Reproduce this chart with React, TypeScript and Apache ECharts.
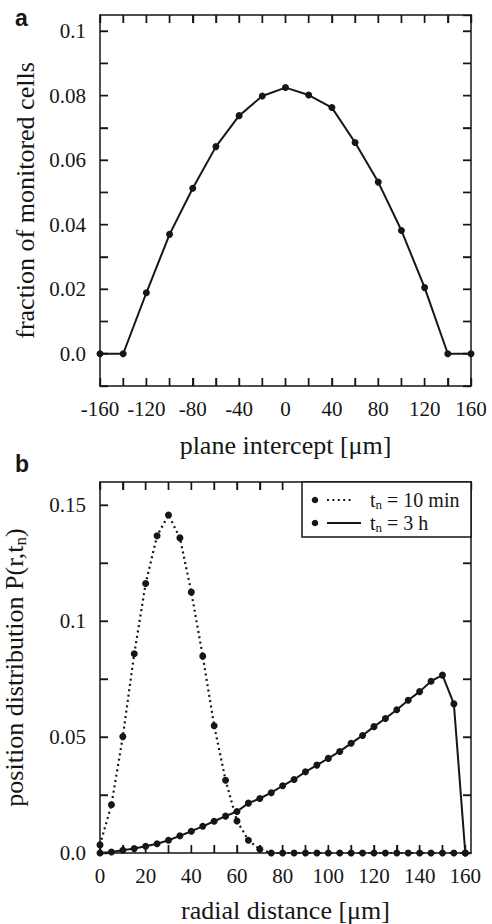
import React, { useEffect, useRef } from "react";
import * as echarts from "echarts";

// Panel a: plane intercept [µm] vs fraction of monitored cells
const planeX = [-160, -140, -120, -100, -80, -60, -40, -20, 0, 20, 40, 60, 80, 100, 120, 140, 160];
const fraction = [0, 0, 0.0189, 0.037, 0.0513, 0.0642, 0.0738, 0.0799, 0.0825, 0.0802, 0.0763, 0.0655, 0.0532, 0.0382, 0.0205, 0, 0];

// Panel b: radial distance [µm] vs position distribution
const radial = [0, 5, 10, 15, 20, 25, 30, 35, 40, 45, 50, 55, 60, 65, 70, 75, 80, 85, 90, 95, 100, 105, 110, 115, 120, 125, 130, 135, 140, 145, 150, 155, 160];
const tenMin = [0.0035, 0.0208, 0.0502, 0.0859, 0.1162, 0.1368, 0.1458, 0.1359, 0.1125, 0.0849, 0.0549, 0.0314, 0.0138, 0.0055, 0.0016, 0, 0, 0, 0, 0, 0, 0, 0, 0, 0, 0, 0, 0, 0, 0, 0, 0, 0];
const threeH = [0, 0.0004, 0.0012, 0.0019, 0.0029, 0.004, 0.0055, 0.0074, 0.0094, 0.0115, 0.0137, 0.0159, 0.0179, 0.0215, 0.0235, 0.026, 0.029, 0.0317, 0.035, 0.0379, 0.0408, 0.0438, 0.0473, 0.0507, 0.0545, 0.058, 0.0618, 0.0659, 0.0696, 0.0741, 0.0767, 0.0643, 0];

const seriesNames = ["t_n = 10 min", "t_n = 3 h"];

// Tick positions (frame ticks on all four sides)
const aXTicks = [-160, -140, -120, -100, -80, -60, -40, -20, 0, 20, 40, 60, 80, 100, 120, 140, 160];
const aYTicks = [-0.01, 0, 0.01, 0.02, 0.03, 0.04, 0.05, 0.06, 0.07, 0.08, 0.09, 0.1];
const bXTicks = [0, 10, 20, 30, 40, 50, 60, 70, 80, 90, 100, 110, 120, 130, 140, 150, 160];
const bYTicks = [0, 0.025, 0.05, 0.075, 0.1, 0.125, 0.15];

const SERIF = "Liberation Serif";
const SANS = "Liberation Sans";
const INK = "#161616";

export default function App() {
  const ref = useRef<HTMLDivElement>(null);
  useEffect(() => {
    document.body.style.margin = "0";
    const chart = echarts.init(ref.current!, null, { renderer: "svg" });
    const near = (v: number, s: number) => Math.abs(v / s - Math.round(v / s)) < 1e-6;
    const mkTick = () => ({ show: true, inside: true, length: 8, lineStyle: { color: INK, width: 1.4 } });

    const xa = (grid: number, min: number, max: number, interval: number, labelStep: number, bottom: boolean, name?: string, gap?: number) => ({
      type: "value",
      gridIndex: grid,
      position: bottom ? "bottom" : "top",
      min,
      max,
      interval,
      axisLine: { show: true, onZero: false, lineStyle: { color: INK, width: 1.5 } },
      axisTick: mkTick(),
      splitLine: { show: false },
      name: name || "",
      nameLocation: "middle",
      nameGap: gap || 40,
      nameTextStyle: { fontFamily: SERIF, fontSize: 26, color: INK },
      axisLabel: bottom
        ? {
            show: true,
            fontFamily: SERIF,
            fontSize: 21,
            color: INK,
            margin: 12,
            showMinLabel: true,
            showMaxLabel: Number.isInteger(max / labelStep),
            formatter: (v: number) => (near(v, labelStep) && v <= 160 ? String(Math.round(v)) : ""),
          }
        : { show: false },
    });

    const ya = (grid: number, min: number, max: number, interval: number, left: boolean, fmt: ((v: number) => string) | null, name?: any, gap?: number) => ({
      type: "value",
      gridIndex: grid,
      position: left ? "left" : "right",
      min,
      max,
      interval,
      axisLine: { show: true, onZero: false, lineStyle: { color: INK, width: 1.5 } },
      axisTick: mkTick(),
      splitLine: { show: false },
      name: name || "",
      nameLocation: "middle",
      nameRotate: 90,
      nameGap: gap || 50,
      nameTextStyle: {
        fontFamily: SERIF,
        fontSize: 26,
        color: INK,
        rich: {
          t: { fontFamily: SERIF, fontSize: 26, color: INK },
          s: { fontFamily: SERIF, fontSize: 17, color: INK, padding: [12, 0, 0, 0] },
        },
      },
      axisLabel: left && fmt
        ? { show: true, fontFamily: SERIF, fontSize: 21, color: INK, margin: 14, showMaxLabel: false, formatter: fmt }
        : { show: false },
    });

    const fmtA = (v: number) => {
      const k = Math.round(v * 100);
      if (!near(v, 0.01) || k < 0 || k % 2 !== 0 || k > 10) return "";
      if (k === 0) return "0.0";
      if (k === 10) return "0.1";
      return (k / 100).toFixed(2);
    };
    const fmtB = (v: number) => {
      const k = Math.round(v / 0.025);
      if (!near(v, 0.025) || k % 2 !== 0) return "";
      return ({ 0: "0.0", 2: "0.05", 4: "0.1", 6: "0.15" } as any)[k] || "";
    };

    // Frame ticks drawn through the axes' own scales
    const tickSeries = (xi: number, yi: number, xTicks: number[], yTicks: number[], xr: number[], yr: number[]) => ({
      type: "custom",
      coordinateSystem: "cartesian2d",
      xAxisIndex: xi,
      yAxisIndex: yi,
      clip: false,
      silent: true,
      z: 4,
      data: [[xr[0], yr[0]]],
      renderItem: (_p: any, api: any) => {
        const L = 8;
        const st = { stroke: INK, lineWidth: 1.4, fill: "none" };
        const children: any[] = [];
        xTicks.forEach((v) => {
          const b = api.coord([v, yr[0]]);
          const t = api.coord([v, yr[1]]);
          children.push({ type: "line", shape: { x1: b[0], y1: b[1], x2: b[0], y2: b[1] - L }, style: st });
          children.push({ type: "line", shape: { x1: t[0], y1: t[1], x2: t[0], y2: t[1] + L }, style: st });
        });
        yTicks.forEach((v) => {
          const l = api.coord([xr[0], v]);
          const r = api.coord([xr[1], v]);
          children.push({ type: "line", shape: { x1: l[0], y1: l[1], x2: l[0] + L, y2: l[1] }, style: st });
          children.push({ type: "line", shape: { x1: r[0], y1: r[1], x2: r[0] - L, y2: r[1] }, style: st });
        });
        return { type: "group", children };
      },
    });

    const legendText = (label: string) => {
      const [pre, post] = label.split("_n");
      return `{t|${pre}}{s|n}{t|${post}}`;
    };
    const legendRich = {
      t: { fontFamily: SERIF, fontSize: 20, fill: INK },
      s: { fontFamily: SERIF, fontSize: 13, fill: INK, padding: [9, 0, 0, 0] },
    };

    chart.setOption({
      animation: false,
      backgroundColor: "#fff",
      grid: [
        { left: 100, right: 21, top: 15, height: 371, outerBoundsMode: "none" },
        { left: 100, right: 21, top: 482, height: 371, outerBoundsMode: "none" },
      ],
      xAxis: [
        xa(0, -160, 160, 20, 40, true, "plane intercept [μm]", 46),
        xa(0, -160, 160, 20, 40, false),
        xa(1, 0, 162.5, 10, 20, true, "radial distance [μm]", 44),
        xa(1, 0, 162.5, 10, 20, false),
      ],
      yAxis: [
        ya(0, -0.01, 0.105, 0.01, true, fmtA, "fraction of monitored cells", 52),
        ya(0, -0.01, 0.105, 0.01, false, null),
        ya(1, 0, 0.16, 0.025, true, fmtB, "{t|position distribution P(r,t}{s|n}{t|)}", 71),
        ya(1, 0, 0.16, 0.025, false, null),
      ],
      series: [
        tickSeries(0, 0, aXTicks, aYTicks, [-160, 160], [-0.01, 0.105]),
        tickSeries(2, 2, bXTicks, bYTicks, [0, 162.5], [0, 0.16]),
        {
          type: "line",
          xAxisIndex: 0,
          yAxisIndex: 0,
          data: planeX.map((x, i) => [x, fraction[i]]),
          symbol: "circle",
          symbolSize: 7,
          itemStyle: { color: INK },
          lineStyle: { color: INK, width: 2 },
          z: 3,
        },
        {
          type: "line",
          name: seriesNames[0],
          xAxisIndex: 2,
          yAxisIndex: 2,
          data: radial.map((x, i) => [x, tenMin[i]]),
          symbol: "circle",
          symbolSize: 7,
          itemStyle: { color: INK },
          lineStyle: { color: INK, width: 2.2, type: [2, 3.4] },
          z: 3,
        },
        {
          type: "line",
          name: seriesNames[1],
          xAxisIndex: 2,
          yAxisIndex: 2,
          data: radial.map((x, i) => [x, threeH[i]]),
          symbol: "circle",
          symbolSize: 7,
          itemStyle: { color: INK },
          lineStyle: { color: INK, width: 2 },
          z: 3,
        },
      ],
      graphic: [
        { type: "text", left: 15, top: 6, style: { text: "a", fontFamily: SANS, fontWeight: "bold", fontSize: 23, fill: INK } },
        { type: "text", left: 15, top: 452, style: { text: "b", fontFamily: SANS, fontWeight: "bold", fontSize: 23, fill: INK } },
        { type: "rect", shape: { x: 302, y: 482, width: 169, height: 55 }, style: { fill: "#fff", stroke: INK, lineWidth: 1.5 }, z: 10 },
        { type: "circle", shape: { cx: 315, cy: 500, r: 3.3 }, style: { fill: INK }, z: 11 },
        { type: "line", shape: { x1: 327, y1: 500, x2: 354, y2: 500 }, style: { stroke: INK, lineWidth: 2.2, lineDash: [2, 3.4] }, z: 11 },
        { type: "text", x: 370, y: 500, style: { text: legendText(seriesNames[0]), rich: legendRich, fontFamily: SERIF, fontSize: 20, verticalAlign: "middle", align: "left" }, z: 11 },
        { type: "circle", shape: { cx: 315, cy: 523, r: 3.3 }, style: { fill: INK }, z: 11 },
        { type: "line", shape: { x1: 327, y1: 523, x2: 361, y2: 523 }, style: { stroke: INK, lineWidth: 2 }, z: 11 },
        { type: "text", x: 370, y: 523, style: { text: legendText(seriesNames[1]), rich: legendRich, fontFamily: SERIF, fontSize: 20, verticalAlign: "middle", align: "left" }, z: 11 },
      ],
    });
    return () => chart.dispose();
  }, []);
  return <div ref={ref} style={{ position: "absolute", left: 0, top: 0, width: 492, height: 924 }} />;
}
